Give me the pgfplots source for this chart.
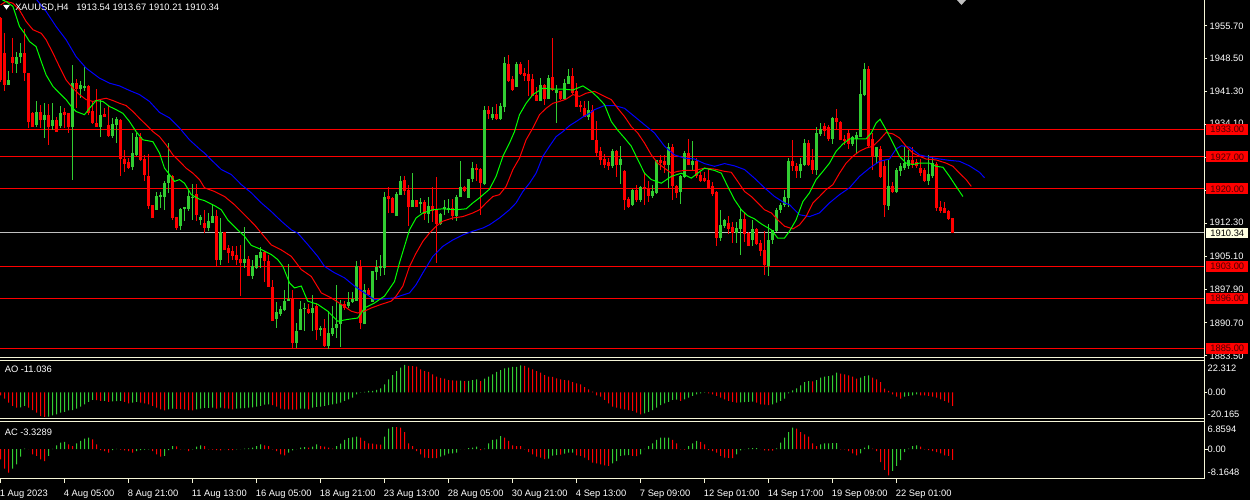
\documentclass[border=0pt]{standalone}
\usepackage{fontspec}
\setmainfont{Liberation Sans}
\usepackage{pgfplots}
\pgfplotsset{compat=1.18}
\usepackage{pgfplotstable}
\definecolor{bull}{RGB}{50,205,50}
\definecolor{bear}{RGB}{255,0,0}
\definecolor{lips}{RGB}{0,255,0}
\definecolor{jaw}{RGB}{0,0,255}
\definecolor{frame}{RGB}{245,245,215}
\definecolor{bidbg}{RGB}{255,255,225}
\definecolor{bidline}{RGB}{192,192,192}
\definecolor{lbltxt}{RGB}{70,0,0}

\pgfplotstableread{
i o h l c
2 1942.7 1945.7 1942.7 1943.8
4 1947.3 1950.0 1945.3 1948.9
5 1948.9 1951.8 1947.5 1949.8
9 1934.0 1939.1 1933.6 1936.9
11 1935.1 1938.7 1931.1 1936.2
13 1933.8 1938.7 1932.9 1935.0
15 1933.8 1938.1 1933.3 1936.5
18 1933.6 1947.1 1921.8 1943.2
20 1941.8 1943.6 1939.8 1942.7
21 1942.2 1946.7 1941.3 1942.5
25 1933.6 1939.5 1931.4 1936.2
28 1931.6 1935.4 1931.1 1934.2
29 1934.0 1935.8 1930.1 1935.2
33 1924.7 1932.2 1924.2 1927.8
34 1927.4 1932.3 1927.2 1931.4
39 1915.3 1919.2 1915.3 1918.3
40 1918.2 1919.4 1915.8 1918.7
41 1918.3 1921.6 1915.4 1921.2
42 1921.2 1930.1 1919.1 1923.1
45 1911.9 1915.8 1910.9 1915.6
46 1915.6 1916.0 1912.9 1916.0
47 1915.6 1919.8 1915.1 1918.3
48 1918.0 1921.1 1913.1 1918.3
50 1913.2 1914.3 1912.1 1913.9
52 1911.4 1914.7 1910.7 1912.9
53 1912.6 1916.7 1912.6 1914.1
55 1904.3 1913.6 1903.4 1910.5
61 1903.7 1911.6 1902.7 1904.6
63 1901.0 1904.3 1900.3 1903.0
64 1902.7 1905.6 1902.5 1905.4
65 1904.9 1907.2 1902.7 1906.1
69 1891.5 1895.2 1889.6 1893.0
70 1892.7 1894.3 1892.1 1893.7
71 1893.4 1897.9 1893.2 1895.4
72 1895.4 1903.6 1895.4 1895.9
74 1886.3 1890.6 1885.2 1888.8
75 1889.0 1895.4 1889.0 1893.7
76 1893.6 1895.0 1888.8 1894.0
78 1892.8 1896.8 1888.8 1893.9
80 1889.0 1889.9 1887.7 1889.5
82 1885.5 1893.2 1884.9 1888.5
83 1888.1 1894.3 1887.7 1889.5
84 1889.5 1899.0 1887.4 1890.3
85 1890.3 1895.7 1885.4 1894.7
87 1894.3 1897.3 1893.9 1895.2
88 1895.2 1897.5 1895.0 1895.9
89 1895.4 1904.1 1895.4 1903.0
91 1890.5 1899.2 1890.3 1897.9
93 1895.2 1902.0 1895.2 1901.9
94 1901.8 1904.5 1900.1 1902.9
95 1902.7 1905.6 1900.8 1903.0
96 1902.7 1919.2 1901.2 1918.3
99 1914.1 1919.2 1914.1 1918.9
100 1918.7 1922.7 1918.7 1921.6
103 1916.1 1923.4 1916.1 1917.5
105 1916.6 1918.0 1914.7 1917.2
107 1914.5 1918.2 1912.6 1916.3
110 1912.3 1914.7 1912.1 1914.5
111 1915.5 1917.6 1914.3 1915.9
112 1915.5 1917.7 1914.7 1915.8
114 1914.1 1918.7 1912.9 1918.2
115 1918.2 1926.0 1918.2 1920.4
117 1917.9 1922.1 1917.9 1922.1
118 1922.1 1925.8 1921.4 1924.5
121 1921.1 1938.1 1920.9 1937.3
123 1935.4 1937.9 1935.1 1936.4
125 1935.2 1938.7 1935.1 1938.1
126 1937.9 1948.9 1936.7 1947.6
129 1942.2 1947.8 1942.2 1947.3
135 1939.3 1944.2 1939.1 1942.7
137 1939.6 1944.9 1939.6 1944.2
139 1940.9 1942.7 1934.4 1941.5
141 1939.6 1944.0 1939.5 1943.1
142 1942.9 1946.2 1942.9 1944.7
147 1935.8 1939.1 1935.1 1937.3
153 1924.9 1928.7 1924.5 1928.3
155 1925.3 1929.4 1921.1 1926.5
158 1916.5 1919.9 1916.3 1919.8
160 1917.5 1920.7 1917.0 1920.4
163 1918.5 1920.9 1918.0 1919.4
164 1919.1 1926.4 1918.9 1926.2
167 1925.2 1930.0 1920.2 1929.2
170 1919.2 1923.1 1916.7 1922.7
171 1922.6 1928.2 1922.3 1927.8
173 1925.3 1930.4 1924.0 1926.0
180 1909.2 1915.3 1908.5 1912.1
181 1911.9 1913.4 1911.4 1913.1
184 1910.3 1912.8 1908.1 1911.4
185 1911.2 1915.8 1905.6 1913.4
188 1908.7 1913.1 1907.5 1911.2
192 1903.2 1912.3 1901.0 1908.8
193 1908.7 1911.0 1908.0 1910.9
194 1910.7 1915.8 1910.5 1915.4
195 1915.3 1916.9 1914.7 1916.5
196 1916.5 1919.8 1916.1 1918.2
197 1918.0 1926.7 1916.1 1926.0
200 1923.8 1926.7 1922.3 1925.5
201 1925.2 1930.9 1925.0 1930.0
204 1924.0 1933.5 1923.1 1932.2
205 1932.0 1934.5 1931.6 1933.0
208 1930.9 1935.7 1929.8 1935.4
213 1929.8 1931.6 1929.4 1931.3
214 1930.9 1932.5 1927.9 1931.8
215 1931.4 1943.7 1931.4 1940.8
216 1940.5 1947.6 1940.2 1946.2
219 1926.9 1929.2 1925.3 1929.1
222 1916.3 1926.3 1915.3 1920.7
224 1919.2 1924.5 1919.1 1924.2
225 1923.8 1925.6 1922.7 1924.9
226 1924.5 1929.1 1924.0 1925.6
227 1925.0 1928.5 1924.3 1926.2
232 1921.6 1927.4 1920.9 1923.3
233 1922.8 1926.9 1922.3 1925.6
}\bulltab

\pgfplotstableread{
i o h l c
0 1957.3 1957.6 1943.3 1943.8
1 1949.7 1954.0 1941.3 1942.7
3 1948.9 1952.9 1945.3 1947.5
6 1949.8 1954.9 1943.5 1945.3
7 1945.3 1945.3 1933.3 1934.7
8 1936.5 1936.9 1933.6 1933.6
10 1936.9 1938.4 1933.3 1935.1
12 1936.2 1938.6 1929.5 1933.6
14 1935.0 1935.8 1932.5 1932.5
16 1936.7 1937.6 1933.3 1936.2
17 1936.5 1936.5 1932.2 1933.6
19 1943.2 1944.0 1937.6 1941.8
22 1942.5 1942.7 1936.2 1936.5
23 1936.9 1939.1 1934.2 1934.3
24 1934.5 1941.8 1933.5 1933.5
26 1936.3 1937.6 1935.7 1935.7
27 1934.0 1938.4 1931.4 1931.6
30 1935.1 1935.2 1922.7 1926.5
31 1926.5 1928.5 1923.6 1925.5
32 1925.8 1926.7 1924.3 1924.5
35 1931.3 1932.3 1926.0 1926.2
36 1926.5 1927.4 1921.6 1922.9
37 1922.9 1927.6 1915.6 1916.3
38 1916.5 1916.5 1913.5 1913.5
43 1922.9 1923.1 1913.1 1913.6
44 1913.9 1913.9 1911.0 1911.4
49 1918.9 1921.1 1912.9 1914.3
51 1912.5 1915.4 1910.3 1911.4
54 1914.1 1915.3 1903.0 1904.3
56 1910.5 1910.5 1906.5 1906.5
57 1907.0 1907.7 1903.7 1905.9
58 1906.3 1907.5 1904.3 1905.2
59 1905.4 1907.4 1903.4 1904.5
60 1904.6 1907.7 1896.5 1903.7
62 1904.6 1905.2 1901.0 1901.0
66 1906.1 1906.3 1899.5 1904.1
67 1904.1 1905.6 1898.5 1898.5
68 1898.5 1900.0 1891.0 1891.0
73 1895.9 1897.8 1885.2 1886.3
77 1893.7 1894.7 1892.5 1892.8
79 1894.3 1894.9 1887.0 1889.0
81 1889.5 1891.4 1885.4 1885.5
86 1894.7 1895.4 1893.5 1893.9
90 1903.0 1904.5 1889.2 1890.6
92 1897.9 1898.3 1896.5 1896.8
97 1918.3 1920.4 1914.7 1917.7
98 1917.9 1918.3 1914.7 1914.7
101 1921.8 1922.7 1918.7 1919.4
102 1919.8 1920.9 1911.8 1916.1
104 1917.5 1917.6 1916.0 1916.1
106 1917.2 1917.6 1913.1 1914.5
108 1916.3 1920.4 1912.8 1915.1
109 1915.4 1922.5 1903.8 1912.3
113 1915.8 1917.7 1913.2 1914.1
116 1920.4 1920.7 1919.2 1919.6
119 1924.5 1925.5 1921.6 1924.2
120 1924.3 1924.5 1914.3 1921.2
122 1937.3 1938.1 1935.2 1936.4
124 1936.4 1938.6 1935.1 1935.2
127 1947.3 1949.3 1943.3 1943.5
128 1944.0 1944.6 1941.5 1941.6
130 1947.3 1947.8 1944.9 1945.1
131 1945.4 1946.4 1943.5 1944.6
132 1945.1 1948.1 1940.3 1943.5
133 1944.0 1945.1 1940.2 1940.2
134 1940.5 1942.2 1939.1 1939.1
136 1942.7 1942.9 1938.4 1939.6
138 1944.4 1952.9 1941.3 1941.5
140 1941.3 1941.5 1939.5 1939.6
143 1944.7 1946.4 1940.8 1940.9
144 1941.3 1943.1 1937.9 1938.0
145 1938.4 1939.1 1936.9 1938.0
146 1937.6 1939.1 1935.7 1935.8
148 1937.3 1938.4 1930.6 1930.7
149 1930.7 1934.9 1927.1 1927.9
150 1928.2 1929.2 1925.2 1926.4
151 1926.5 1927.7 1924.5 1925.2
152 1925.8 1926.7 1924.2 1924.9
154 1928.3 1928.5 1922.6 1925.3
156 1923.8 1924.2 1915.3 1917.6
157 1917.7 1918.2 1915.8 1916.0
159 1919.8 1920.9 1917.2 1917.5
161 1920.4 1923.6 1916.5 1919.9
162 1920.1 1921.6 1917.2 1918.5
165 1926.2 1927.4 1924.2 1925.6
166 1926.0 1927.4 1923.4 1925.2
168 1929.1 1929.8 1917.5 1920.5
169 1920.7 1920.9 1918.0 1919.1
172 1927.8 1930.9 1925.3 1925.3
174 1926.0 1926.7 1922.3 1922.7
175 1923.1 1923.6 1921.4 1921.6
176 1922.3 1923.6 1921.4 1921.6
177 1922.0 1924.5 1919.9 1920.1
178 1920.5 1921.4 1918.5 1918.9
179 1919.2 1919.6 1907.5 1909.2
182 1912.5 1914.1 1910.0 1911.2
183 1911.6 1912.8 1908.1 1910.3
186 1913.4 1914.8 1908.3 1910.0
187 1910.3 1910.5 1907.4 1907.5
189 1911.2 1911.4 1907.8 1908.0
190 1908.1 1908.8 1905.2 1906.3
191 1906.5 1910.7 1901.2 1903.2
198 1926.0 1930.6 1923.8 1924.9
199 1925.0 1925.6 1922.3 1923.8
202 1930.0 1930.6 1924.9 1925.3
203 1926.2 1928.7 1923.3 1924.0
206 1933.8 1934.5 1931.6 1932.7
207 1933.5 1934.0 1930.4 1930.9
209 1935.4 1937.4 1932.8 1934.7
210 1934.7 1934.9 1930.6 1930.7
211 1930.9 1931.8 1929.6 1930.4
212 1932.3 1932.8 1928.7 1929.8
217 1946.2 1946.9 1929.1 1929.3
218 1930.9 1932.3 1924.1 1926.9
220 1928.7 1929.4 1922.3 1922.6
221 1924.9 1926.2 1913.9 1916.5
223 1920.7 1921.4 1919.1 1919.2
228 1926.2 1929.2 1924.5 1925.3
229 1925.8 1926.5 1924.5 1925.0
230 1924.5 1926.5 1922.8 1923.4
231 1924.0 1924.5 1921.4 1921.6
234 1925.5 1925.8 1915.1 1915.8
235 1916.1 1917.4 1914.8 1915.1
236 1915.8 1917.0 1914.7 1914.7
237 1915.1 1915.4 1913.1 1913.4
238 1913.54 1913.67 1910.21 1910.34
}\beartab

\pgfplotsset{
  panel/.style={scale only axis, width=903pt, xmin=-0.125, xmax=300.875,
    anchor=north west, axis line style={draw=none}, xtick=\empty,
    ytick pos=right, yticklabels={}, tick align=outside, major tick length=2.25pt,
    tick style={draw=frame, line width=0.75pt},
    tick label style={font=\fontsize{7}{8}\selectfont},
    clip mode=individual},
  wick/.style={draw=none, mark=none, forget plot,
    error bars/.cd, y dir=both, y explicit, error mark=none,
    error bar style={draw=#1, line width=0.75pt, line cap=butt}},
  body/.style={draw=none, mark=none, forget plot,
    error bars/.cd, y dir=both, y explicit, error mark=none,
    error bar style={draw=#1, line width=2.25pt, line cap=butt}},
  hl/.style={bear, line width=0.75pt, mark=none, forget plot}
}
\tikzset{
  lvl/.style={anchor=west, xshift=1.5pt, fill=bear, text=lbltxt, inner sep=0pt,
    minimum width=31.5pt, minimum height=8pt, text height=5pt, text depth=0pt,
    font=\fontsize{7}{8}\selectfont}
}

\begin{document}
\begin{tikzpicture}[font=\fontsize{7}{8}\selectfont]
\path[use as bounding box, fill=black] (0,0) rectangle (937.5pt,-375pt);

% price scale labels (drawn first, level labels cover part of 1934.10)
\foreach \t/\y in {1955.70/21.75, 1948.50/46.25, 1941.30/70.75, 1934.10/94.6,
  1912.30/169.25, 1905.10/194.5, 1897.90/219.0, 1890.70/244.5, 1883.50/269.5}
  {\node[anchor=base west, inner sep=0pt, text=white] at (907.1pt,-\y pt) {\t};}

% ---------------- main price panel ----------------
\begin{axis}[panel, at={(0pt,0pt)}, height=268.5pt, ymin=1882.95, ymax=1961.3,
  ytick={1883.5,1890.7,1897.9,1905.1,1912.3,1919.7,1926.9,1934.1,1941.3,1948.5,1955.7}]
% horizontal levels (behind the candles)
\addplot[hl] coordinates {(-0.125,1933) (300.875,1933)};
\addplot[hl] coordinates {(-0.125,1927) (300.875,1927)};
\addplot[hl] coordinates {(-0.125,1920) (300.875,1920)};
\addplot[hl] coordinates {(-0.125,1903) (300.875,1903)};
\addplot[hl] coordinates {(-0.125,1896) (300.875,1896)};
\addplot[hl] coordinates {(-0.125,1885) (300.875,1885)};
\addplot[bidline, line width=0.75pt, mark=none, forget plot] coordinates {(-0.125,1910.34) (300.875,1910.34)};

\addplot[wick=bull] table[x=i, y expr={(\thisrow{h}+\thisrow{l})/2}, y error expr={(\thisrow{h}-\thisrow{l})/2}] {\bulltab};
\addplot[body=bull] table[x=i, y expr={(\thisrow{o}+\thisrow{c})/2}, y error expr={max(abs(\thisrow{c}-\thisrow{o})/2,0.11)}] {\bulltab};
\addplot[wick=bear] table[x=i, y expr={(\thisrow{h}+\thisrow{l})/2}, y error expr={(\thisrow{h}-\thisrow{l})/2}] {\beartab};
\addplot[body=bear] table[x=i, y expr={(\thisrow{o}+\thisrow{c})/2}, y error expr={max(abs(\thisrow{c}-\thisrow{o})/2,0.11)}] {\beartab};

% Alligator jaw (blue)
\addplot[jaw, line width=0.75pt, mark=none] coordinates {
(8,1962.5)(11.4,1958.8)(13.9,1955.5)(16.4,1952.6)(18.9,1948.9)(21.4,1946.4)(24.75,1944.2)(27.25,1943.1)(29.75,1942.5)(32.25,1941.5)(34.75,1940.6)(37.25,1939.1)(39.75,1936.7)(42.25,1935.5)(44.75,1933.3)(47.25,1930.7)(49.75,1928.7)(51,1927.8)(52.7,1926.3)(55.2,1924.2)(57.7,1923.1)(60.2,1920.9)(62.7,1919.1)(65.2,1916.9)(67.7,1915.0)(70.2,1912.9)(72.7,1911.0)(74.3,1910.3)(76.8,1907.8)(79.3,1905.2)(81,1903.0)(83.5,1901.6)(86,1900.5)(88.5,1898.7)(91,1897.2)(93.5,1895.7)(96,1895.9)(98.5,1896.1)(99.75,1896.5)(102.25,1897.2)(103.9,1899.0)(105.6,1901.6)(108.1,1905.2)(110.6,1907.4)(113.1,1908.8)(115.6,1909.9)(118.1,1910.7)(120.6,1911.4)(122.25,1912.1)(124.75,1913.6)(127.25,1915.4)(128.9,1916.9)(130.6,1919.4)(132.25,1921.2)(133.9,1923.4)(135.6,1927.1)(137.25,1929.3)(138.9,1931.4)(140.6,1932.5)(142.25,1933.8)(143.9,1934.7)(145.6,1935.7)(147.25,1936.5)(148.5,1937.3)(151,1938.2)(153.5,1938.2)(156,1937.6)(158.5,1935.8)(161,1934.0)(163.5,1932.2)(166,1929.3)(168.5,1927.4)(171,1926.7)(173.5,1926.5)(176,1925.5)(178.5,1924.9)(181,1925.5)(183.5,1925.0)(186,1924.2)(188.5,1922.3)(191,1920.2)(193.5,1918.3)(196,1916.9)(197.25,1916.5)(199.75,1914.3)(202.25,1913.9)(204.75,1914.7)(207.25,1916.9)(209.75,1918.7)(212.25,1920.2)(214.75,1922.7)(217.25,1924.5)(219.75,1926.0)(222.25,1926.5)(223.9,1928.7)(225.2,1929.4)(227.25,1929.1)(229.75,1927.4)(232.25,1926.9)(234.75,1926.5)(237.25,1926.2)(239.75,1926.0)(242.25,1925.0)(244.75,1923.6)(246,1922.4)};
% teeth (red)
\addplot[bear, line width=0.75pt, mark=none] coordinates {
(0,1960.2)(1.4,1961.0)(3.1,1960.6)(4.75,1959.1)(6.4,1956.6)(8.1,1954.8)(10.2,1954.0)(11.4,1952.6)(13.1,1949.7)(14.75,1946.7)(16.4,1943.8)(18.1,1942.0)(19.75,1940.6)(21.4,1939.5)(23.1,1939.1)(24.75,1939.5)(26.4,1939.8)(28.1,1939.3)(29.75,1938.7)(31.4,1938.2)(33.1,1936.9)(34.75,1935.4)(36.4,1934.0)(38.1,1932.5)(39.75,1931.4)(41.4,1929.6)(43.1,1927.4)(44.75,1926.0)(46.4,1924.5)(48.1,1923.4)(49.75,1922.0)(51,1920.2)(53.5,1919.4)(56,1918.3)(58.5,1916.5)(61,1914.3)(63.5,1912.1)(65.2,1910.3)(67.7,1907.7)(70.2,1906.6)(72.7,1905.2)(75.2,1902.3)(77.7,1900.8)(80.2,1897.2)(82.7,1896.1)(85.2,1894.7)(87.7,1893.2)(89.3,1892.8)(91,1893.2)(92.7,1893.9)(95.2,1894.7)(97.7,1895.4)(98.9,1896.5)(100.6,1898.7)(102.25,1903.0)(103.9,1905.9)(105.6,1908.5)(107.25,1910.3)(108.9,1911.8)(110.6,1912.9)(113.1,1913.6)(115.6,1913.9)(118.1,1914.7)(119.75,1915.4)(121.4,1916.9)(123.1,1918.3)(124.75,1918.7)(126.4,1920.5)(128.1,1924.2)(129.75,1926.7)(131.4,1930.7)(133.1,1933.3)(134.75,1936.2)(136.4,1937.6)(138.1,1938.7)(139.75,1939.1)(141.4,1939.6)(143.1,1940.6)(144.75,1940.2)(146.4,1940.9)(148.5,1941.3)(151,1940.2)(152.7,1939.5)(154.3,1937.6)(156,1935.8)(157.7,1933.6)(159.3,1932.2)(161,1930.0)(162.7,1927.4)(164.3,1925.6)(166,1924.5)(167.7,1923.4)(169.3,1923.8)(171,1924.0)(173.5,1924.0)(176,1924.5)(178.5,1924.3)(181,1923.8)(182.7,1923.6)(184.3,1921.6)(186,1919.4)(187.7,1918.3)(189.3,1916.9)(191,1915.4)(192.7,1914.7)(194.3,1913.2)(196,1911.8)(198.1,1911.2)(199.75,1912.1)(201.4,1913.9)(203.1,1916.9)(204.75,1918.3)(206.4,1919.8)(208.1,1920.9)(209.75,1923.4)(211.4,1925.6)(213.1,1927.1)(214.75,1928.2)(216.4,1928.9)(218.1,1929.3)(219.75,1930.7)(221.4,1932.3)(223.1,1932.0)(224.75,1931.1)(226.4,1929.3)(228.1,1927.8)(229.75,1927.1)(231.4,1926.5)(233.9,1926.3)(236.4,1925.6)(238.1,1924.9)(239.75,1923.4)(241.4,1922.0)(242.7,1920.5)};
% lips (green)
\addplot[lips, line width=0.75pt, mark=none] coordinates {
(0.5,1961.3)(1.4,1960.96)(3.1,1959.9)(4.75,1955.5)(6,1954.0)(7.25,1952.2)(8.9,1951.1)(10.2,1947.8)(11.4,1944.9)(13.1,1942.4)(14.75,1940.9)(16.4,1939.5)(17.7,1938.0)(18.9,1936.9)(21,1936.2)(22.25,1937.6)(23.9,1939.3)(25.6,1939.1)(27.25,1938.0)(28.9,1937.3)(30.6,1936.5)(32.25,1934.7)(33.9,1932.5)(35.6,1930.7)(38.1,1930.3)(39.75,1927.8)(41,1924.5)(42.25,1923.1)(43.5,1921.6)(44.75,1922.0)(46,1921.2)(47.7,1918.7)(49.75,1917.7)(51,1917.4)(53.5,1916.3)(55.2,1915.4)(56.8,1913.2)(59.3,1911.0)(61,1909.6)(62.7,1907.6)(65.2,1906.7)(67.7,1905.6)(69.3,1904.5)(70.6,1903.0)(72.25,1899.4)(73.5,1898.3)(75.2,1898.7)(76.8,1895.4)(79.3,1894.7)(81.8,1893.2)(84.3,1891.0)(86.8,1891.4)(89.3,1891.7)(91,1893.9)(93.5,1895.0)(96,1896.5)(98.5,1899.7)(99.75,1903.8)(101,1907.4)(102.25,1911.0)(103.9,1913.6)(105.6,1914.7)(108.1,1915.4)(110.6,1915.6)(113.9,1915.4)(116.4,1915.6)(118.1,1916.9)(119.75,1918.0)(122.25,1919.9)(123.9,1922.7)(125.6,1927.1)(127.25,1930.0)(128.5,1932.5)(129.75,1936.2)(131.4,1938.7)(133.1,1940.6)(135.6,1942.0)(138.1,1941.8)(140.6,1941.8)(143.1,1941.6)(145.6,1942.5)(147.7,1941.3)(149.3,1940.0)(151,1938.4)(152.7,1934.7)(154.3,1932.8)(156,1931.1)(157.7,1929.3)(159.3,1926.4)(161,1923.4)(162.7,1922.0)(165.2,1921.2)(167.7,1922.7)(170.2,1923.4)(172.7,1922.3)(174.3,1923.4)(176,1924.5)(178.5,1924.0)(180.2,1923.4)(181.8,1920.5)(183.5,1917.6)(185.2,1915.4)(186.8,1914.1)(188.5,1913.4)(190.2,1912.3)(192.7,1911.0)(194.3,1909.2)(196,1909.2)(197.25,1910.7)(198.9,1913.2)(200.6,1917.2)(202.25,1919.1)(203.9,1922.0)(205.6,1923.8)(207.25,1925.6)(208.9,1928.2)(210.6,1929.8)(212.25,1930.9)(214.75,1930.9)(216.4,1930.9)(217.7,1932.2)(218.9,1934.4)(219.9,1935.2)(221.4,1932.9)(223.1,1930.0)(224.75,1927.1)(226.4,1925.6)(228.1,1925.3)(229.75,1925.6)(232.25,1925.6)(233.9,1924.9)(235.6,1924.7)(237.25,1922.7)(238.9,1920.5)(240.6,1918.3)};

\node[lvl] at (axis cs:300.875,1933) {1933.00};
\node[lvl] at (axis cs:300.875,1927) {1927.00};
\node[lvl] at (axis cs:300.875,1920) {1920.00};
\node[lvl] at (axis cs:300.875,1903) {1903.00};
\node[lvl] at (axis cs:300.875,1896) {1896.00};
\node[lvl] at (axis cs:300.875,1885) {1885.00};
\node[lvl, fill=bidbg, text=black] at (axis cs:300.875,1910.34) {1910.34};
\end{axis}

% ---------------- AO panel ----------------
\begin{axis}[panel, at={(0pt,-270pt)}, height=44pt, ymin=-21.57, ymax=26.39, ytick={0}]
\addplot[ybar, bar width=0.75pt, bar shift=0pt, fill=bull, draw=none] coordinates {
(5,-12.4)(6,-11.2)(12,-19.9)(13,-18.8)(14,-18.0)(15,-16.6)(16,-16.1)(17,-14.7)(18,-14.5)(19,-13.4)(20,-11.7)(21,-9.8)(22,-7.9)(23,-6.3)(26,-7.0)(28,-7.4)(29,-7.3)(30,-7.1)(33,-8.5)(34,-7.9)(42,-13.9)(43,-13.4)(49,-13.9)(50,-13.4)(51,-12.8)(52,-12.7)(53,-12.5)(55,-12.5)(59,-13.4)(60,-13.1)(61,-13.0)(62,-12.5)(63,-12.4)(64,-11.7)(65,-11.2)(66,-10.1)(67,-9.8)(75,-13.4)(76,-13.3)(78,-12.5)(79,-12.0)(80,-11.7)(81,-11.2)(82,-10.6)(83,-9.8)(84,-9.3)(85,-8.5)(86,-7.1)(87,-5.7)(88,-4.4)(89,-1.7)(90,-0.3)(91,0.3)(92,1.1)(93,1.2)(94,1.9)(95,3.2)(96,6.5)(97,10.6)(98,14.1)(99,17.4)(100,20.1)(101,22.312)(115,9.6)(117,9.3)(118,10.0)(119,10.6)(121,11.2)(122,12.8)(123,14.7)(124,16.6)(125,18.2)(126,19.6)(127,20.1)(128,20.7)(129,20.8)(130,22.0)(161,-17.2)(162,-16.1)(163,-14.5)(164,-12.5)(165,-10.6)(166,-9.0)(167,-7.9)(168,-6.3)(169,-6.0)(171,-5.7)(172,-4.4)(173,-3.0)(174,-1.7)(175,-0.8)(176,-0.3)(185,-8.2)(186,-8.1)(187,-7.9)(188,-7.7)(193,-9.8)(194,-8.5)(195,-7.1)(196,-5.2)(197,-0.8)(198,1.6)(199,3.2)(200,5.7)(201,8.4)(202,9.2)(204,10.0)(205,12.0)(206,12.8)(207,13.3)(208,13.9)(209,16.0)(215,12.0)(216,13.3)(217,13.9)(226,-3.6)(227,-3.0)(228,-2.5)(229,-1.7)};
\addplot[ybar, bar width=0.75pt, bar shift=0pt, fill=bear, draw=none] coordinates {
(0,-2.5)(1,-5.2)(2,-8.5)(3,-11.2)(4,-12.5)(7,-12.5)(8,-14.5)(9,-16.6)(10,-19.3)(11,-20.165)(24,-6.4)(25,-7.1)(27,-7.9)(31,-7.9)(32,-9.0)(35,-8.5)(36,-9.0)(37,-9.8)(38,-11.2)(39,-12.5)(40,-13.9)(41,-14.7)(44,-13.5)(45,-13.6)(46,-13.9)(47,-14.5)(48,-14.7)(54,-13.4)(56,-13.1)(57,-13.4)(58,-13.9)(68,-10.6)(69,-11.7)(70,-13.4)(71,-13.9)(72,-14.0)(73,-14.1)(74,-14.2)(77,-13.9)(102,21.5)(103,21.4)(104,20.9)(105,18.8)(106,17.4)(107,16.6)(108,14.7)(109,12.8)(110,11.7)(111,11.2)(112,10.0)(113,9.8)(114,9.5)(116,9.2)(120,9.2)(131,21.5)(132,20.1)(133,18.8)(134,17.4)(135,16.0)(136,14.1)(137,12.8)(138,12.5)(139,11.4)(140,10.6)(141,10.0)(142,9.8)(143,8.4)(144,7.3)(145,6.5)(146,4.3)(147,2.4)(148,0.5)(149,-2.5)(150,-3.6)(151,-6.3)(152,-9.0)(153,-11.7)(154,-12.5)(155,-13.4)(156,-13.9)(157,-14.5)(158,-15.3)(159,-16.6)(160,-18.0)(170,-7.1)(177,-0.8)(178,-1.7)(179,-3.0)(180,-4.4)(181,-5.7)(182,-7.1)(183,-7.9)(184,-8.5)(189,-8.5)(190,-9.8)(191,-10.1)(192,-10.4)(203,9.0)(210,15.2)(211,14.7)(212,13.9)(213,12.8)(214,11.2)(218,12.0)(219,10.6)(220,8.4)(221,3.0)(222,1.1)(223,-1.7)(224,-3.6)(225,-5.2)(230,-2.5)(231,-2.6)(232,-3.0)(233,-3.6)(234,-4.4)(235,-5.7)(236,-7.1)(237,-8.5)(238,-11.036)};
\end{axis}

% ---------------- AC panel ----------------
\begin{axis}[panel, at={(0pt,-316pt)}, height=43pt, ymin=-9.20, ymax=8.62, ytick={0},
  xtick={0,16,32,48,64,80,96,112,128,144,160,176,192,208,224}, xtick pos=bottom,
  xticklabels={1 Aug 2023,4 Aug 05:00,8 Aug 21:00,11 Aug 13:00,16 Aug 05:00,18 Aug 21:00,23 Aug 13:00,28 Aug 05:00,30 Aug 21:00,4 Sep 13:00,7 Sep 09:00,12 Sep 01:00,14 Sep 17:00,19 Sep 09:00,22 Sep 01:00},
  xticklabel style={anchor=base west, inner sep=0pt, yshift=-10pt, xshift=-0.6pt, text=white},
  major tick length=3pt]
\addplot[ybar, bar width=0.75pt, bar shift=0pt, fill=bull, draw=none] coordinates {
(3,-6.09)(4,-4.74)(5,-2.36)(6,0.15)(12,-2.15)(13,0.05)(14,1.16)(15,1.99)(16,2.20)(19,1.78)(20,2.51)(21,3.23)(22,3.54)(28,-0.29)(29,0.05)(34,-0.60)(35,-0.29)(36,-0.19)(37,-0.12)(41,-2.15)(42,-0.29)(43,0.95)(46,-0.03)(48,-0.08)(49,0.75)(50,1.16)(56,-0.05)(59,-0.08)(60,-0.03)(61,0.12)(62,0.23)(63,0.44)(64,0.95)(65,1.47)(72,-1.12)(73,-0.39)(74,-0.05)(75,0.44)(76,0.64)(78,0.75)(79,1.47)(84,0.95)(85,1.68)(86,2.82)(87,3.44)(88,3.65)(89,3.85)(96,3.85)(97,6.34)(98,6.8594)(110,-2.36)(111,-1.95)(112,-1.43)(113,-1.33)(114,-1.12)(115,0.02)(117,0.33)(118,0.44)(119,0.75)(121,0.12)(122,1.78)(123,2.82)(124,3.03)(125,4.06)(137,-2.98)(138,-2.0)(139,-1.9)(141,-1.43)(142,-1.12)(143,-1.10)(153,-4.43)(154,-3.71)(155,-2.15)(156,-1.95)(157,-1.90)(160,-1.64)(161,0.05)(162,0.95)(163,1.78)(164,2.82)(165,3.54)(166,3.56)(167,3.58)(172,0.95)(173,1.78)(174,2.51)(184,-1.64)(185,-0.39)(186,0.02)(187,0.23)(188,0.28)(189,0.33)(194,0.23)(195,1.99)(196,3.54)(197,5.30)(198,6.65)(205,1.47)(206,1.78)(207,1.80)(208,1.82)(209,1.84)(215,-1.33)(216,0.44)(217,1.16)(223,-6.81)(224,-5.26)(225,-3.40)(226,-0.91)(227,0.12)(228,0.95)(229,1.16)};
\addplot[ybar, bar width=0.75pt, bar shift=0pt, fill=bear, draw=none] coordinates {
(0,-3.19)(1,-6.09)(2,-7.33)(7,-0.05)(8,-1.64)(9,-2.15)(10,-3.19)(11,-3.71)(17,1.47)(18,0.95)(23,3.03)(24,1.47)(25,-0.29)(26,-0.60)(27,-1.12)(30,-0.19)(31,-0.39)(32,-0.60)(33,-1.12)(38,-0.60)(39,-1.64)(40,-2.36)(44,0.85)(45,-0.12)(47,-0.60)(51,0.95)(52,-0.08)(53,-0.19)(54,-0.29)(55,-0.39)(57,-0.29)(58,-0.35)(66,1.16)(67,0.95)(68,-0.08)(69,-0.60)(70,-1.64)(71,-1.95)(77,0.44)(80,0.95)(81,0.75)(82,0.44)(83,0.12)(90,3.54)(91,2.51)(92,1.78)(93,1.68)(94,1.47)(95,1.42)(99,6.80)(100,6.65)(101,5.30)(102,1.78)(103,0.95)(104,-0.60)(105,-1.64)(106,-2.67)(107,-2.72)(108,-2.78)(109,-2.83)(116,-0.02)(120,-0.29)(126,3.54)(127,2.51)(128,1.16)(129,0.95)(130,0.90)(131,-0.08)(132,-0.91)(133,-1.64)(134,-2.36)(135,-2.67)(136,-3.1)(140,-1.7)(144,-1.95)(145,-2.15)(146,-2.67)(147,-3.40)(148,-4.23)(149,-4.43)(150,-4.74)(151,-5.06)(152,-5.26)(158,-2.15)(159,-2.20)(168,2.82)(169,1.78)(170,-0.08)(171,-0.19)(175,2.20)(176,1.47)(177,-0.29)(178,-0.60)(179,-1.12)(180,-2.15)(181,-2.67)(182,-2.72)(183,-2.78)(190,-0.02)(191,-0.39)(192,-0.45)(193,-0.5)(199,6.34)(200,5.30)(201,4.58)(202,3.85)(203,1.78)(204,0.95)(210,-0.08)(211,-0.10)(212,-0.60)(213,-1.33)(214,-1.95)(218,0.12)(219,-0.60)(220,-4.02)(221,-6.50)(222,-8.1648)(230,0.75)(231,-0.08)(232,-0.29)(233,-0.60)(234,-0.91)(235,-1.33)(236,-1.95)(237,-2.15)(238,-3.3289)};
\end{axis}

% frames
\draw[frame, line width=0.75pt] (903.4pt,0pt) -- (903.4pt,-359pt);
\foreach \y in {268.3,270,314,316,359} {\draw[frame, line width=0.75pt] (0pt,-\y pt) -- (903.4pt,-\y pt);}

% header and indicator labels
\fill[white] (2.25pt,-3.6pt) -- (7.5pt,-3.6pt) -- (4.875pt,-7.2pt) -- cycle;
\node[anchor=base west, inner sep=0pt, text=white] at (11.25pt,-8.0pt) {XAUUSD,H4\hspace{5.7pt}1913.54 1913.67 1910.21 1910.34};
\fill[bidline] (717.75pt,0pt) -- (724.5pt,0pt) -- (721.1pt,-3.75pt) -- cycle;
\node[anchor=base west, inner sep=0pt, text=white] at (3.4pt,-279.5pt) {AO -11.036};
\node[anchor=base west, inner sep=0pt, text=white] at (3.4pt,-326.5pt) {AC -3.3289};
\foreach \t/\y in {22.312/278.3, 0.00/296.5, -20.165/312.8, 6.8594/324.5, 0.00/339.2, -8.1648/356.5}
  {\node[anchor=base west, inner sep=0pt, text=white] at (905.6pt,-\y pt) {\t};}
\end{tikzpicture}
\end{document}
